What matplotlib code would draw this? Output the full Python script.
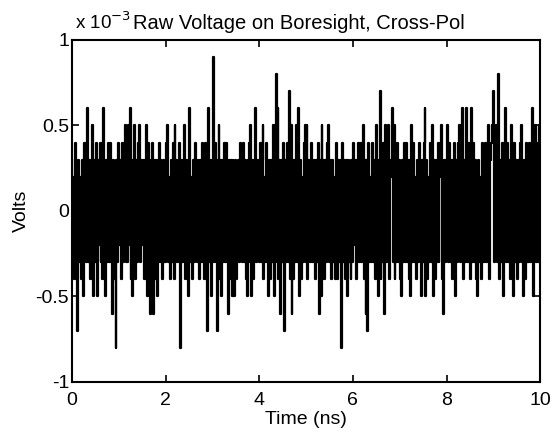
import numpy as np
import matplotlib
matplotlib.use("Agg")
import matplotlib.pyplot as plt

plt.rcParams['font.family'] = ['Liberation Sans', 'DejaVu Sans']
plt.rcParams['axes.unicode_minus'] = False

# Voltage samples in units of 0.1e-3 V, time step 0.02 ns
volt_units = [
    3, -3, 2, -4, 4, -3, -7, 3, -3, 2, -4, 3, -5, 4, -2, 3, -3, 6, -3, 3, -4, 3, 5, -5, 3,
    -3, 4, -5, 3, -2, 4, -3, 3, -4, 6, -2, -5, 3, -3, 4, -3, 4, -3, -6, 3, -4, 2, -8, 3, -3,
    4, -2, 3, -4, 4, -3, 2, 5, -3, -3, 5, -2, 6, -4, 3, -5, 3, 5, -4, 3, -3, 4, 5, -3, 3,
    -2, 3, -4, 3, -3, 5, -5, 4, 2, -6, 3, 4, -6, 3, -4, 3, -5, 2, 4, -3, 3, -3, -4, 3, -3,
    -3, 4, 5, -3, 2, -4, 3, -3, 4, -4, 5, -2, 3, -3, 2, 4, -8, 3, -3, 3, 5, -4, 3, -3, -5,
    3, 6, -3, 2, -4, 3, -3, 4, 2, -3, 3, -4, 3, -3, 4, -3, 3, -4, 4, -2, -7, 6, -3, 3, -5,
    3, 9, -3, 4, -3, -7, 3, 5, -4, 3, -5, 3, -3, 4, -3, 4, -3, -6, 3, -4, 3, -5, 3, 2, -5,
    3, -4, 2, 3, -3, 4, 2, -3, 4, -3, 3, -4, -5, 3, -3, 4, 5, -5, 3, -4, 3, 6, -3, 3, -2,
    -3, 4, -3, 3, 5, -4, 2, -3, 4, -3, -5, 3, -4, 3, -3, 5, -5, 3, 8, -3, 6, -4, 3, -6, 3,
    -3, 4, -7, 3, -3, 4, -3, 7, -4, 5, -6, 3, -4, 3, -3, 5, -3, 6, -5, 3, -4, 2, -3, 4, 5,
    -3, 5, -4, 3, 2, -3, 4, -3, 2, 3, -4, 3, -3, 4, -6, 3, -5, 5, -3, 3, -4, 3, -3, 4, 5,
    -3, 3, -4, 3, -3, 2, -4, 3, 4, -4, 3, -3, 3, -8, 4, -3, 3, -4, 3, -5, 3, -3, 2, -4, 3,
    -3, 4, -2, 3, -4, 3, 4, -3, 4, -3, 3, 5, -4, 3, -6, 3, -7, 4, -3, 2, -3, 4, -3, 3, -4,
    5, -3, -5, 3, 7, -4, 3, -3, 4, -6, 5, -3, 3, 5, -4, 3, 2, 6, -3, 5, -4, 3, -3, 4, -3,
    3, -4, -5, 3, -3, 4, -3, 4, -3, 3, -4, 3, -5, 5, -3, 4, -3, 2, -4, 3, -3, 4, 3, -5, 3,
    -3, 4, 6, -5, 3, -4, 2, -3, 4, -3, 5, -5, 3, -4, 3, -3, 4, -3, 2, 3, 5, -4, -6, 3, -3,
    3, 5, -3, 4, -3, 3, -4, 3, -3, 4, -5, 3, -3, 4, 5, -3, 3, 6, -4, 3, -3, 6, -3, 4, -3,
    3, -4, 6, -3, 4, -3, 3, -4, -5, 3, -3, 2, -4, 4, -3, 3, -3, 4, -3, 4, 5, -4, 3, 4, 5,
    7, -3, 4, 5, -3, 3, 8, -4, 3, -3, 4, -5, 3, 6, -3, 4, -3, 3, -4, 5, -3, 3, -5, 4, -3,
    3, -4, 3, -3, 4, 5, -3, -5, 3, -4, 4, -3, 3, -3, 4, -3, 3, 6, -5, 3, 5, -3, 4, -3, 5,
    -3,
]
t_start = 0.0
t_step = 0.02
x_ticks = [0, 2, 4, 6, 8, 10]
y_ticks = [-1, -0.5, 0, 0.5, 1]
y_ticklabels = ['-1', '-0.5', '0', '0.5', '1']

volts_mV = np.array(volt_units) * 0.1   # in units of 1e-3 V
time_ns = t_start + t_step * np.arange(len(volts_mV))

fig = plt.figure(figsize=(5.58, 4.34), dpi=100)
ax = fig.add_axes([0.129, 0.12, 0.839, 0.788])
ax.plot(time_ns, volts_mV, color='black', lw=1.6, drawstyle='steps-mid')
ax.set_xlim(0, 10)
ax.set_ylim(-1, 1)
ax.set_xticks(x_ticks)
ax.set_yticks(y_ticks)
ax.set_yticklabels(y_ticklabels)
ax.tick_params(direction='in', length=5, width=1.2, labelsize=14,
               top=True, right=True)
ax.tick_params(axis='x', pad=7)
ax.tick_params(axis='y', pad=2)
for s in ax.spines.values():
    s.set_linewidth(1.5)
ax.set_xlabel('Time (ns)', fontsize=14, labelpad=2)
ax.set_ylabel('Volts', fontsize=14, labelpad=4)
ax.set_title('Raw Voltage on Boresight, Cross-Pol', fontsize=14.5, pad=8, x=0.485)
fig.text(0.134, 0.925, r'x 10$^{-3}$', fontsize=13.5, ha='left', va='bottom')

fig.savefig('out.png', dpi=100)
